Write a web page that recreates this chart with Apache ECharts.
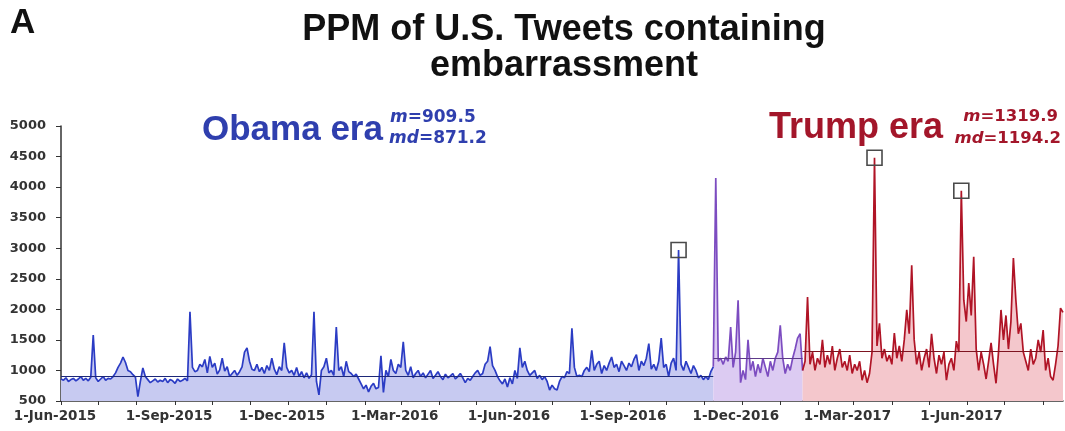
<!DOCTYPE html>
<html>
<head>
<meta charset="utf-8">
<script src="https://cdn.jsdelivr.net/npm/echarts@6/dist/echarts.min.js"></script>
<style>
  html, body { margin: 0; padding: 0; background: #ffffff; }
  #chart { width: 1065px; height: 431px; }
</style>
</head>
<body>
<div id="chart"></div>
<script>
// PPM of U.S. tweets containing "embarrassment", one reading every 2 days.
const sampleStepDays = 2;

const obamaStart = '2015-06-01';
const obamaValues = [
  860, 840, 880, 820, 850, 870, 830, 860, 900, 840,
  870, 830, 890, 1580, 880, 820, 860, 900, 840, 870,
  860, 900, 960, 1050, 1120, 1220, 1130, 1000, 980, 930,
  890, 570, 820, 1040, 900, 850, 800, 830, 860, 810,
  840, 820, 870, 800, 850, 830, 790, 860, 820, 840,
  870, 830, 1960, 1050, 980, 1000, 1100, 1060, 1180, 960,
  1230, 1050, 1120, 940, 1010, 1200, 990, 1060, 900, 950,
  1000, 920, 980, 1060, 1300, 1370, 1150, 1020, 1000, 1100,
  980, 1050, 950, 1080, 1000, 1200, 1020, 930, 1060, 1000,
  1450, 1050, 960, 1000, 920, 1050, 900, 980, 880, 960,
  870, 930, 1960, 820, 600, 1000, 1060, 1200, 960, 1000,
  920, 1710, 1000, 1060, 900, 1150, 980, 950, 900, 940,
  860, 780, 700, 760, 650, 740, 790, 700, 720, 1240,
  640, 1000, 900, 1180, 1000, 950, 1100, 1050, 1470, 1000,
  920, 1060, 880, 950, 1000, 900, 960, 880, 940, 1000,
  870, 920, 980, 900, 850, 940, 880, 910, 950, 860,
  900, 950, 880, 800, 870, 840, 900, 960, 1000, 920,
  950, 1100, 1150, 1390, 1080, 1000, 900, 830, 780, 860,
  730, 880, 780, 1000, 870, 1370, 1050, 1150, 1000, 920,
  960, 1000, 870, 920, 850, 900, 820, 680, 760, 700,
  680, 820, 900, 880, 980, 950, 1690, 1050, 900, 920,
  900, 1000, 1050, 980, 1330, 1000, 1100, 1150, 950, 1080,
  1000, 1120, 1220, 1050, 1100, 980, 1150, 1080, 1000, 1120,
  1060, 1180, 1260, 1000, 1150, 1080, 1200, 1440, 1020, 1100,
  1000, 1150, 1530, 1050, 1100, 900, 1120, 1200, 1000, 2970,
  1100, 1000, 1150, 1050, 950, 1080, 1000, 880, 920, 850,
  900, 850, 980, 1060
];

const transitionStart = '2016-11-08';
const transitionValues = [
  1060, 4150, 1150, 1200, 1100, 1220, 1150, 1710, 1050, 1300,
  2150, 800, 1000, 850, 1500, 1000, 1150, 900, 1100, 960,
  1200, 1050, 900, 1150, 1000, 1200, 1300, 1740, 1200, 950,
  1100, 1000, 1200, 1350, 1530, 1600, 1000
];

const trumpStart = '2017-01-19';
const trumpValues = [
  1000, 1150, 2200, 1100, 1300, 1000, 1200, 1100, 1500, 1050,
  1250, 1100, 1400, 1000, 1200, 1350, 1050, 1150, 1000, 1250,
  950, 1100, 1000, 1150, 840, 1000, 800, 950, 1300, 4480,
  1400, 1770, 1200, 1350, 1150, 1250, 1100, 1610, 1200, 1400,
  1150, 1500, 1990, 1600, 2720, 1500, 1100, 1300, 1000, 1200,
  1350, 1050, 1600, 1200, 950, 1250, 1100, 1300, 840, 1100,
  1200, 1000, 1480, 1300, 3940, 2150, 1800, 2430, 1900, 2860,
  1350, 1000, 1300, 1100, 860, 1150, 1450, 1100, 790, 1300,
  1990, 1500, 1900, 1350, 1800, 2840, 2150, 1600, 1770, 1300,
  1150, 1000, 1350, 1100, 1200, 1500, 1300, 1660, 1000, 1200,
  900, 840, 1100, 1400, 2020, 1950
];

// Era summary statistics
const obamaMean = 909.5;
const obamaMedian = 871.2;
const transitionMean = 1200;
const trumpMean = 1319.9;
const trumpMedian = 1194.2;

// Boxed peaks (index into the era's value list)
const obamaBoxed = [249];
const trumpBoxed = [29, 64];

// Axis range and labelled dates
const axisStart = '2015-06-01';
const axisEnd = '2017-08-17';
const xLabelDates = [
  '2015-06-01', '2015-09-01', '2015-12-01', '2016-03-01', '2016-06-01',
  '2016-09-01', '2016-12-01', '2017-03-01', '2017-06-01'
];
const monthNames = ['Jan', 'Feb', 'Mar', 'Apr', 'May', 'Jun', 'Jul', 'Aug', 'Sep', 'Oct', 'Nov', 'Dec'];
const yMin = 500;
const yMax = 5000;
const yStep = 500;

function dayTs(iso, offsetDays) {
  const p = iso.split('-').map(Number);
  return new Date(p[0], p[1] - 1, p[2] + (offsetDays || 0)).getTime();
}

function toPairs(startIso, values) {
  return values.map((v, i) => [dayTs(startIso, i * sampleStepDays), v]);
}

const obamaData = toPairs(obamaStart, obamaValues);
const transitionData = toPairs(transitionStart, transitionValues);
const trumpData = toPairs(trumpStart, trumpValues);

// Monthly tick marks across the axis
const monthTicks = [];
{
  const s = new Date(dayTs(axisStart));
  const e = dayTs(axisEnd);
  let y = s.getFullYear(), m = s.getMonth();
  while (new Date(y, m, 1).getTime() <= e) {
    monthTicks.push(new Date(y, m, 1).getTime());
    m++;
    if (m > 11) { m = 0; y++; }
  }
}

function meanLine(data, value, color) {
  return {
    silent: true,
    symbol: ['none', 'none'],
    label: { show: false },
    lineStyle: { color: color, width: 1.2, type: 'solid' },
    data: [[
      { coord: [data[0][0], value] },
      { coord: [data[data.length - 1][0], value] }
    ]]
  };
}

function boxes(data, indices) {
  return {
    silent: true,
    symbol: 'rect',
    symbolSize: 15,
    label: { show: false },
    itemStyle: { color: 'rgba(255,255,255,0)', borderColor: '#4a4a4a', borderWidth: 1.6 },
    data: indices.map(i => ({ coord: data[i] }))
  };
}

function statText(label, value) {
  return '{i|' + label + '}=' + value.toFixed(1);
}

const blue = '#2b3cc4';
const purple = '#7c4cc0';
const red = '#b01426';
const blueText = '#2f3fae';
const redText = '#a3162a';

const chart = echarts.init(document.getElementById('chart'), null, { renderer: 'canvas' });

chart.setOption({
  animation: false,
  backgroundColor: '#ffffff',
  grid: { left: 61, right: 2, top: 126, bottom: 30, containLabel: false },
  xAxis: {
    type: 'value',
    min: dayTs(axisStart),
    max: dayTs(axisEnd),
    axisLine: { show: true, lineStyle: { color: '#333', width: 1.5 } },
    axisTick: {
      show: true,
      customValues: monthTicks,
      length: 4,
      lineStyle: { color: '#333', width: 1 }
    },
    axisLabel: {
      customValues: xLabelDates.map(d => dayTs(d)),
      formatter: function (v) {
        const d = new Date(v);
        return d.getDate() + '-' + monthNames[d.getMonth()] + '-' + d.getFullYear();
      },
      fontFamily: 'DejaVu Sans',
      fontWeight: 'bold',
      fontSize: 13.5,
      color: '#333',
      margin: 8,
      padding: [0, 12, 0, 0],
      hideOverlap: false
    },
    splitLine: { show: false }
  },
  yAxis: {
    type: 'value',
    min: yMin,
    max: yMax,
    interval: yStep,
    axisLine: { show: true, lineStyle: { color: '#333', width: 1.5 } },
    axisTick: { show: true, length: 5, lineStyle: { color: '#333', width: 1 } },
    axisLabel: {
      formatter: v => String(v),
      fontFamily: 'DejaVu Sans',
      fontWeight: 'bold',
      fontSize: 13,
      color: '#333',
      margin: 15
    },
    splitLine: { show: false }
  },
  series: [
    {
      name: 'Obama era',
      type: 'line',
      data: obamaData,
      showSymbol: false,
      lineStyle: { color: blue, width: 1.7 },
      itemStyle: { color: blue },
      areaStyle: { color: '#c7caf1', opacity: 1 },
      z: 2,
      markLine: meanLine(obamaData, obamaMean, '#1d2878'),
      markPoint: boxes(obamaData, obamaBoxed)
    },
    {
      name: 'Transition',
      type: 'line',
      data: transitionData,
      showSymbol: false,
      lineStyle: { color: purple, width: 1.7 },
      itemStyle: { color: purple },
      areaStyle: { color: '#dccbf2', opacity: 1 },
      z: 2,
      markLine: meanLine(transitionData, transitionMean, '#5e3a8a')
    },
    {
      name: 'Trump era',
      type: 'line',
      data: trumpData,
      showSymbol: false,
      lineStyle: { color: red, width: 1.7 },
      itemStyle: { color: red },
      areaStyle: { color: '#f4c7cc', opacity: 1 },
      z: 2,
      markLine: meanLine(trumpData, trumpMean, '#7d1420'),
      markPoint: boxes(trumpData, trumpBoxed)
    }
  ],
  graphic: [
    {
      type: 'text', x: 10, y: 6,
      style: { text: 'A', font: 'bold 35px "Liberation Sans", Arial, sans-serif', fill: '#111' }
    },
    {
      type: 'text', x: 564, y: 12,
      style: {
        text: 'PPM of U.S. Tweets containing\nembarrassment',
        font: 'bold 36px "Liberation Sans", Arial, sans-serif',
        fill: '#111', align: 'center', verticalAlign: 'top', lineHeight: 36
      }
    },
    {
      type: 'text', x: 202, y: 130,
      style: { text: 'Obama era', font: 'bold 35px "Liberation Sans", Arial, sans-serif', fill: blueText, verticalAlign: 'middle' }
    },
    {
      type: 'text', x: 390, y: 118,
      style: {
        text: statText('m', obamaMean),
        verticalAlign: 'middle', fill: blueText,
        font: 'bold 17px "DejaVu Sans", sans-serif',
        rich: { i: { fontStyle: 'italic', fontWeight: 'bold', fontSize: 17, fontFamily: 'DejaVu Sans', fill: blueText } }
      }
    },
    {
      type: 'text', x: 389, y: 139,
      style: {
        text: statText('md', obamaMedian),
        verticalAlign: 'middle', fill: blueText,
        font: 'bold 17px "DejaVu Sans", sans-serif',
        rich: { i: { fontStyle: 'italic', fontWeight: 'bold', fontSize: 17, fontFamily: 'DejaVu Sans', fill: blueText } }
      }
    },
    {
      type: 'text', x: 769, y: 128,
      style: { text: 'Trump era', font: 'bold 36px "Liberation Sans", Arial, sans-serif', fill: redText, verticalAlign: 'middle' }
    },
    {
      type: 'text', x: 1058, y: 117,
      style: {
        text: statText('m', trumpMean),
        align: 'right', verticalAlign: 'middle', fill: redText,
        font: 'bold 16.5px "DejaVu Sans", sans-serif',
        rich: { i: { fontStyle: 'italic', fontWeight: 'bold', fontSize: 16.5, fontFamily: 'DejaVu Sans', fill: redText } }
      }
    },
    {
      type: 'text', x: 1061, y: 139,
      style: {
        text: statText('md', trumpMedian),
        align: 'right', verticalAlign: 'middle', fill: redText,
        font: 'bold 16.5px "DejaVu Sans", sans-serif',
        rich: { i: { fontStyle: 'italic', fontWeight: 'bold', fontSize: 16.5, fontFamily: 'DejaVu Sans', fill: redText } }
      }
    }
  ]
});
</script>
</body>
</html>
